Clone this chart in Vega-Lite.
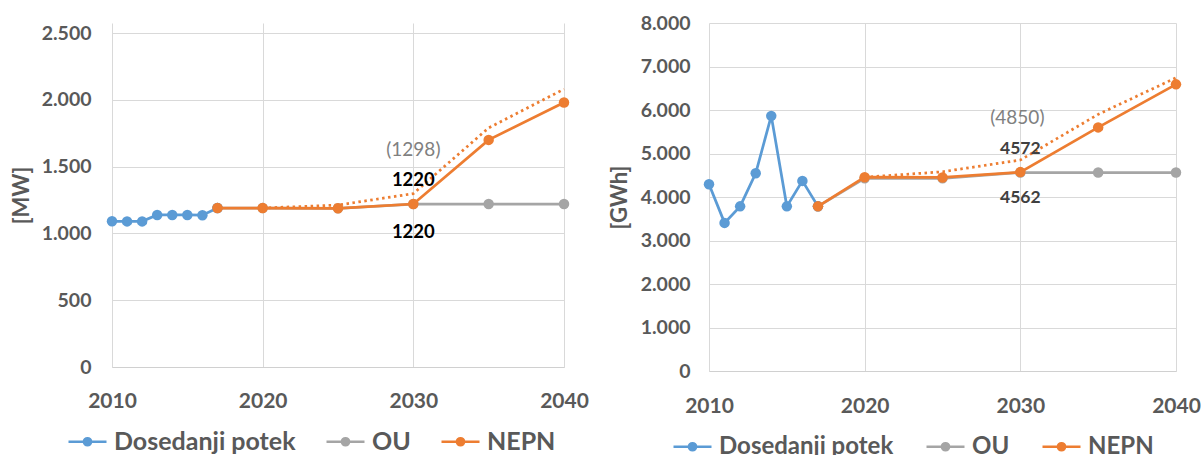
{
  "$schema": "https://vega.github.io/schema/vega-lite/v6.json",
  "padding": {"left": 10, "top": 13, "right": 0, "bottom": 0},
  "bounds": "flush",
  "spacing": 145,
  "config": {
    "locale": {"number": {"decimal": ",", "thousands": ".", "grouping": [3], "currency": ["", " €"]}},
    "font": "Lato",
    "view": {"stroke": null},
    "axis": {
      "labelFont": "Lato", "labelFontWeight": "bold", "labelColor": "#595959", "labelFlush": false,
      "titleFont": "Lato", "titleFontWeight": "bold", "titleColor": "#595959",
      "gridColor": "#d9d9d9", "gridWidth": 1, "domainColor": "#d0d0d0", "domainWidth": 1.2, "ticks": false
    }
  },
  "datasets": {
    "mw": [
      {"year": 2010, "value": 1091, "series": "Dosedanji potek"},
      {"year": 2011, "value": 1090, "series": "Dosedanji potek"},
      {"year": 2012, "value": 1090, "series": "Dosedanji potek"},
      {"year": 2013, "value": 1138, "series": "Dosedanji potek"},
      {"year": 2014, "value": 1138, "series": "Dosedanji potek"},
      {"year": 2015, "value": 1138, "series": "Dosedanji potek"},
      {"year": 2016, "value": 1136, "series": "Dosedanji potek"},
      {"year": 2017, "value": 1190, "series": "Dosedanji potek"},
      {"year": 2017, "value": 1190, "series": "OU"},
      {"year": 2020, "value": 1190, "series": "OU"},
      {"year": 2025, "value": 1188, "series": "OU"},
      {"year": 2030, "value": 1220, "series": "OU"},
      {"year": 2035, "value": 1220, "series": "OU"},
      {"year": 2040, "value": 1220, "series": "OU"},
      {"year": 2017, "value": 1190, "series": "NEPN"},
      {"year": 2020, "value": 1190, "series": "NEPN"},
      {"year": 2025, "value": 1188, "series": "NEPN"},
      {"year": 2030, "value": 1220, "series": "NEPN"},
      {"year": 2035, "value": 1700, "series": "NEPN"},
      {"year": 2040, "value": 1980, "series": "NEPN"}
    ],
    "mw_dot": [
      {"year": 2020, "value": 1190},
      {"year": 2025, "value": 1212},
      {"year": 2030, "value": 1298},
      {"year": 2035, "value": 1790},
      {"year": 2040, "value": 2080}
    ],
    "mw_labels": [
      {"year": 2030, "value": 1220, "label": "1220", "role": "upper"},
      {"year": 2030, "value": 1220, "label": "1220", "role": "lower"},
      {"year": 2030, "value": 1298, "label": "(1298)", "role": "high"}
    ],
    "gwh": [
      {"year": 2010, "value": 4295, "series": "Dosedanji potek"},
      {"year": 2011, "value": 3405, "series": "Dosedanji potek"},
      {"year": 2012, "value": 3785, "series": "Dosedanji potek"},
      {"year": 2013, "value": 4545, "series": "Dosedanji potek"},
      {"year": 2014, "value": 5865, "series": "Dosedanji potek"},
      {"year": 2015, "value": 3785, "series": "Dosedanji potek"},
      {"year": 2016, "value": 4370, "series": "Dosedanji potek"},
      {"year": 2017, "value": 3785, "series": "Dosedanji potek"},
      {"year": 2017, "value": 3785, "series": "OU"},
      {"year": 2020, "value": 4430, "series": "OU"},
      {"year": 2025, "value": 4430, "series": "OU"},
      {"year": 2030, "value": 4562, "series": "OU"},
      {"year": 2035, "value": 4562, "series": "OU"},
      {"year": 2040, "value": 4562, "series": "OU"},
      {"year": 2017, "value": 3785, "series": "NEPN"},
      {"year": 2020, "value": 4455, "series": "NEPN"},
      {"year": 2025, "value": 4450, "series": "NEPN"},
      {"year": 2030, "value": 4572, "series": "NEPN"},
      {"year": 2035, "value": 5600, "series": "NEPN"},
      {"year": 2040, "value": 6590, "series": "NEPN"}
    ],
    "gwh_dot": [
      {"year": 2020, "value": 4455},
      {"year": 2025, "value": 4580},
      {"year": 2030, "value": 4850},
      {"year": 2035, "value": 5900},
      {"year": 2040, "value": 6740}
    ],
    "gwh_labels": [
      {"year": 2030, "value": 4572, "label": "4572", "role": "upper"},
      {"year": 2030, "value": 4562, "label": "4562", "role": "lower"},
      {"year": 2030, "value": 4850, "label": "(4850)", "role": "high"}
    ]
  },
  "resolve": {"scale": {"color": "independent"}, "legend": {"color": "independent"}},
  "hconcat": [
    {
      "width": 452,
      "height": 344,
      "encoding": {
        "x": {"field": "year", "type": "quantitative", "scale": {"domain": [2010, 2040], "nice": false, "zero": false},
              "axis": {"values": [2010, 2020, 2030, 2040], "format": "d", "title": null, "labelFontSize": 21, "labelPadding": 23}},
        "y": {"field": "value", "type": "quantitative", "scale": {"domain": [0, 2575], "nice": false},
              "axis": {"values": [0, 500, 1000, 1500, 2000, 2500], "format": ",d", "title": "[MW]", "domain": false,
                       "labelFontSize": 19.5, "labelPadding": 21, "titleFontSize": 22, "titlePadding": 8}}
      },
      "layer": [
        {
          "data": {"name": "mw"},
          "transform": [{"filter": "datum.series === 'OU'"}],
          "mark": {"type": "line", "strokeWidth": 2.75, "point": {"filled": true, "size": 110}},
          "encoding": {"color": {"field": "series", "type": "nominal",
            "scale": {"domain": ["Dosedanji potek", "OU", "NEPN"], "range": ["#5B9BD5", "#A5A5A5", "#ED7D31"]},
            "legend": {"title": null, "orient": "none", "legendX": -45, "legendY": 398, "direction": "horizontal",
              "symbolType": "M-1,0L1,0M0.19,0A0.19,0.19,0,1,1,-0.19,0A0.19,0.19,0,1,1,0.19,0Z",
              "symbolSize": 1444, "symbolStrokeWidth": 2.5, "labelFontSize": 25, "labelFont": "Lato", "labelFontWeight": "bold",
              "labelColor": "#595959", "labelLimit": 300, "labelOffset": 6, "columnPadding": 25, "padding": 0,
              "encode": {"symbols": {"update": {"fill": {"signal": "datum.value === 'OU' ? '#A5A5A5' : datum.value === 'NEPN' ? '#ED7D31' : '#5B9BD5'"}}}}}}}
        },
        {
          "data": {"name": "mw"},
          "transform": [{"filter": "datum.series === 'Dosedanji potek'"}],
          "mark": {"type": "line", "strokeWidth": 2.75, "point": {"filled": true, "size": 110}},
          "encoding": {"color": {"field": "series", "type": "nominal",
            "scale": {"domain": ["Dosedanji potek", "OU", "NEPN"], "range": ["#5B9BD5", "#A5A5A5", "#ED7D31"]}}}
        },
        {
          "data": {"name": "mw"},
          "transform": [{"filter": "datum.series === 'NEPN'"}],
          "mark": {"type": "line", "strokeWidth": 2.75, "point": {"filled": true, "size": 110}},
          "encoding": {"color": {"field": "series", "type": "nominal",
            "scale": {"domain": ["Dosedanji potek", "OU", "NEPN"], "range": ["#5B9BD5", "#A5A5A5", "#ED7D31"]}}}
        },
        {
          "data": {"name": "mw_dot"},
          "mark": {"type": "line", "color": "#ED7D31", "strokeWidth": 2.75, "strokeDash": [2.5, 3.5]}
        },
        {
          "data": {"name": "mw_labels"},
          "transform": [{"filter": "datum.role === 'upper'"}],
          "mark": {"type": "text", "dy": -24, "font": "Lato", "fontWeight": "bold", "fontSize": 18.5, "color": "#000000"},
          "encoding": {"text": {"field": "label"}}
        },
        {
          "data": {"name": "mw_labels"},
          "transform": [{"filter": "datum.role === 'lower'"}],
          "mark": {"type": "text", "dy": 28, "font": "Lato", "fontWeight": "bold", "fontSize": 18.5, "color": "#000000"},
          "encoding": {"text": {"field": "label"}}
        },
        {
          "data": {"name": "mw_labels"},
          "transform": [{"filter": "datum.role === 'high'"}],
          "mark": {"type": "text", "dy": -44, "font": "Lato", "fontSize": 19, "color": "#808080"},
          "encoding": {"text": {"field": "label"}}
        }
      ]
    },
    {
      "width": 467,
      "height": 348,
      "encoding": {
        "x": {"field": "year", "type": "quantitative", "scale": {"domain": [2010, 2040], "nice": false, "zero": false},
              "axis": {"values": [2010, 2020, 2030, 2040], "format": "d", "title": null, "labelFontSize": 21, "labelPadding": 24}},
        "y": {"field": "value", "type": "quantitative", "scale": {"domain": [0, 8000], "nice": false},
              "axis": {"values": [0, 1000, 2000, 3000, 4000, 5000, 6000, 7000, 8000], "format": ",d", "title": "[GWh]", "domain": false,
                       "labelFontSize": 19.5, "labelPadding": 19, "titleFontSize": 22, "titlePadding": 9}}
      },
      "layer": [
        {
          "data": {"name": "gwh"},
          "transform": [{"filter": "datum.series === 'OU'"}],
          "mark": {"type": "line", "strokeWidth": 2.75, "point": {"filled": true, "size": 110}},
          "encoding": {"color": {"field": "series", "type": "nominal",
            "scale": {"domain": ["Dosedanji potek", "OU", "NEPN"], "range": ["#5B9BD5", "#A5A5A5", "#ED7D31"]},
            "legend": {"title": null, "orient": "none", "legendX": -37, "legendY": 403, "direction": "horizontal",
              "symbolType": "M-1,0L1,0M0.19,0A0.19,0.19,0,1,1,-0.19,0A0.19,0.19,0,1,1,0.19,0Z",
              "symbolSize": 1444, "symbolStrokeWidth": 2.5, "labelFontSize": 24, "labelFont": "Lato", "labelFontWeight": "bold",
              "labelColor": "#595959", "labelLimit": 300, "labelOffset": 6, "columnPadding": 27, "padding": 0,
              "encode": {"symbols": {"update": {"fill": {"signal": "datum.value === 'OU' ? '#A5A5A5' : datum.value === 'NEPN' ? '#ED7D31' : '#5B9BD5'"}}}}}}}
        },
        {
          "data": {"name": "gwh"},
          "transform": [{"filter": "datum.series === 'Dosedanji potek'"}],
          "mark": {"type": "line", "strokeWidth": 2.75, "point": {"filled": true, "size": 110}},
          "encoding": {"color": {"field": "series", "type": "nominal",
            "scale": {"domain": ["Dosedanji potek", "OU", "NEPN"], "range": ["#5B9BD5", "#A5A5A5", "#ED7D31"]}}}
        },
        {
          "data": {"name": "gwh"},
          "transform": [{"filter": "datum.series === 'NEPN'"}],
          "mark": {"type": "line", "strokeWidth": 2.75, "point": {"filled": true, "size": 110}},
          "encoding": {"color": {"field": "series", "type": "nominal",
            "scale": {"domain": ["Dosedanji potek", "OU", "NEPN"], "range": ["#5B9BD5", "#A5A5A5", "#ED7D31"]}}}
        },
        {
          "data": {"name": "gwh_dot"},
          "mark": {"type": "line", "color": "#ED7D31", "strokeWidth": 2.75, "strokeDash": [2.5, 3.5]}
        },
        {
          "data": {"name": "gwh_labels"},
          "transform": [{"filter": "datum.role === 'upper'"}],
          "mark": {"type": "text", "dy": -23, "font": "Lato", "fontWeight": "bold", "fontSize": 17.5, "color": "#404040"},
          "encoding": {"text": {"field": "label"}}
        },
        {
          "data": {"name": "gwh_labels"},
          "transform": [{"filter": "datum.role === 'lower'"}],
          "mark": {"type": "text", "dy": 25, "font": "Lato", "fontWeight": "bold", "fontSize": 17.5, "color": "#404040"},
          "encoding": {"text": {"field": "label"}}
        },
        {
          "data": {"name": "gwh_labels"},
          "transform": [{"filter": "datum.role === 'high'"}],
          "mark": {"type": "text", "dy": -42, "dx": -3, "font": "Lato", "fontSize": 19, "color": "#808080"},
          "encoding": {"text": {"field": "label"}}
        }
      ]
    }
  ]
}
